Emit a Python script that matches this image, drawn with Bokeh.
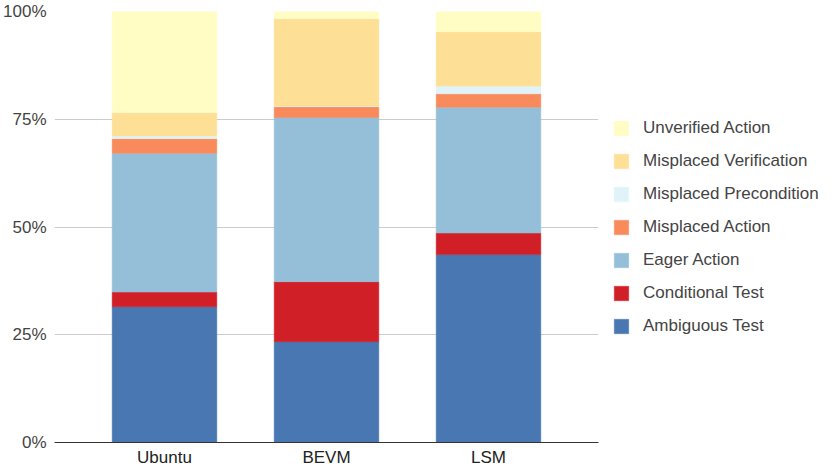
from bokeh.plotting import figure
from bokeh.models import Legend, LegendItem, FactorRange
from bokeh.embed import file_html
from bokeh.resources import INLINE

categories = ["Ubuntu", "BEVM", "LSM"]
series = ["Ambiguous Test", "Conditional Test", "Eager Action", "Misplaced Action",
          "Misplaced Precondition", "Misplaced Verification", "Unverified Action"]
ambiguous_test = [31.5, 23.4, 43.6]
conditional_test = [3.4, 13.9, 5.0]
eager_action = [32.2, 38.1, 29.2]
misplaced_action = [3.4, 2.5, 3.1]
misplaced_precondition = [0.6, 0.2, 1.8]
misplaced_verification = [5.4, 20.2, 12.6]
unverified_action = [23.5, 1.7, 4.7]
colors = ["#4877b1", "#d01f26", "#95bfd8", "#f88a5c", "#e0f3f8", "#fddf96", "#fffdc4"]
y_ticks = [0, 25, 50, 75, 100]
y_tick_labels = ["0%", "25%", "50%", "75%", "100%"]

data = {"cat": categories}
keys = ["a", "c", "e", "ma", "mp", "mv", "ua"]
for k, vals in zip(keys, [ambiguous_test, conditional_test, eager_action, misplaced_action,
                          misplaced_precondition, misplaced_verification, unverified_action]):
    data[k] = vals

FONT = "Liberation Sans"

xr = FactorRange(*categories, range_padding=0.179, range_padding_units="absolute")
p = figure(x_range=xr, y_range=(0, 100), frame_width=544, frame_height=431,
           output_backend="svg", toolbar_location=None,
           min_border_left=52, min_border_right=0, min_border_top=11, min_border_bottom=0)
p.outline_line_color = None

rs = p.vbar_stack(keys, x="cat", width=0.646, source=data, color=colors,
                  line_color=colors, line_width=0.5)

p.xgrid.grid_line_color = None
p.ygrid.grid_line_color = "#cccccc"
p.ygrid.ticker = y_ticks

for ax in (p.xaxis[0], p.yaxis[0]):
    ax.major_tick_line_color = None
    ax.minor_tick_line_color = None
    ax.major_tick_out = 0
    ax.major_tick_in = 0
    ax.minor_tick_out = 0
    ax.minor_tick_in = 0
    ax.axis_label_standoff = 0
    ax.axis_label_text_font_size = "0px"
    ax.major_label_text_font = FONT
    ax.major_label_text_font_size = "17px"

p.yaxis.ticker = y_ticks
p.yaxis.major_label_overrides = {t: l for t, l in zip(y_ticks, y_tick_labels)}
p.yaxis.axis_line_color = None
p.yaxis.major_label_standoff = 8
p.yaxis.major_label_text_color = "#444444"

p.xaxis.axis_line_color = "#333333"
p.xaxis.axis_line_width = 1
p.xaxis.major_label_standoff = 5
p.xaxis.major_label_text_color = "#222222"

items = [LegendItem(label=s, renderers=[r]) for s, r in zip(series, rs)][::-1]
legend = Legend(items=items, location="left", orientation="vertical",
                glyph_width=18, glyph_height=18, label_height=18, spacing=13,
                label_standoff=13, padding=0, margin=14,
                border_line_color=None, background_fill_alpha=0,
                label_text_font=FONT, label_text_font_size="17px",
                label_text_color="#444444")
p.add_layout(legend, "right")

open("out.html", "w").write(file_html(p, INLINE))
